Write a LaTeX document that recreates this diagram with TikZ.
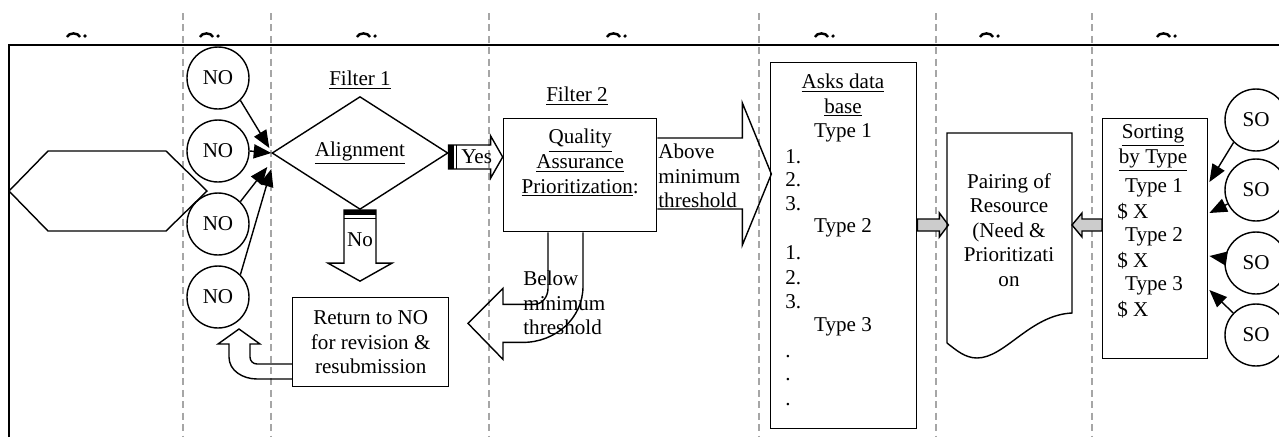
\documentclass[tikz,border=0pt]{standalone}
\usepackage{fontspec}
\setmainfont{Liberation Serif}
\usetikzlibrary{shapes.geometric,arrows.meta,positioning,calc}

\tikzset{
  lane/.style={black!35, dash pattern=on 4pt off 2.5pt, line width=0.8pt},
  box/.style={draw, line width=0.8pt, inner sep=0pt, anchor=north west},
  org/.style={draw, circle, line width=0.8pt, minimum size=1.24cm, inner sep=0pt},
  blk/.style={draw, line width=0.8pt, line join=miter},
  gblk/.style={blk, fill=gray!40},
  feed/.style={line width=0.8pt, -{Triangle[length=10pt,width=8pt]}},
  txt/.style={align=center, inner sep=0pt}
}

\begin{document}
\begin{tikzpicture}[x=0.02cm,y=-0.02cm,font=\fontsize{12}{14}\selectfont]
\useasboundingbox (0,0) rectangle (1279,437);
\clip (0,0) rectangle (1279,437);

% lanes and the cut-off lane titles
\foreach \x in {183,271,489,759,936,1092}
  \draw[lane] (\x,13) -- (\x,437);
\foreach \x in {67,200,357,607,815,980,1157}{
  \draw[line width=1.4pt] (\x,37) to[out=70,in=110] (\x+13,37);
  \fill (\x+18,36) circle (1pt);
}
\draw[line width=1.1pt] (9,437) -- (9,45) -- (1279,45);

% start
\draw[line width=0.8pt] (9,191) -- (48,151) -- (166,151) -- (207,191) -- (166,231) -- (48,231) -- cycle;

% NO's
\node[org] (no1) at (218,78) {NO};
\node[org] (no2) at (218,151) {NO};
\node[org] (no3) at (218,224) {NO};
\node[org] (no4) at (218,297) {NO};

% filter 1
\node (f1) at (360,80) {\underline{Filter 1}};
\node[draw, diamond, line width=0.8pt, minimum width=3.52cm, minimum height=1.96cm, inner sep=0pt] (dia) at (360,153) {\underline{Alignment}};
\draw[feed] (no1.south east) -- ($(dia.west)+(-2,-5)$);
\draw[feed] (no2.east) -- (dia.west);
\draw[feed] (no3.north east) -- ($(dia.west)+(-4,14)$);
\draw[feed] (no4.north east) -- ($(dia.west)+(0,16)$);

% yes
\draw[blk] ($(dia.east)+(0,-8)$) -- ++(42,0) -- ++(0,-9) -- ++(12,21) -- ++(-12,21) -- ++(0,-9) -- ++(-42,0) -- cycle;
\fill ($(dia.east)+(0,-8)$) rectangle ++(5,24);
\draw[line width=0.6pt] ($(dia.east)+(8,-8)$) -- ++(0,24);
\node at ($(dia.east)+(28,4)$) {Yes};

% no
\draw[blk] ($(dia.south)+(-16,0)$) -- ++(32,0) -- ++(0,53) -- ++(16,0) -- ++(-32,18) -- ++(-32,-18) -- ++(16,0) -- cycle;
\fill ($(dia.south)+(-16,0)$) rectangle ++(32,5);
\draw[line width=0.6pt] ($(dia.south)+(-16,8)$) -- ++(32,0);
\node at ($(dia.south)+(0,30)$) {No};

% return
\node[box, minimum width=3.12cm, minimum height=1.78cm, align=center] (ret) at (292,297) {Return to NO\\for revision \&\\resubmission};
\draw[blk] ($(ret.north west)+(0,67)$) -- ++(-35,0) to[out=180,in=-90] ++(-7,-7) -- ++(0,-13) -- ++(10,0) -- ++(-21,-15) -- ++(-21,15) -- ++(11,0) -- ++(0,13) to[out=-90,in=180] ++(28,22) -- ++(35,0);

% filter 2
\node (f2) at (577,96) {\underline{Filter 2}};
\node[box, minimum width=3.06cm, minimum height=2.26cm] (qa) at (503,118) {};
\node[txt] (qat) at ($(qa.north)+(0,45)$) {\underline{Quality}\\\underline{Assurance}\\\underline{Prioritization}:};

% above
\draw[blk] ($(qa.north east)+(0,20)$) -- ++(85,0) -- ++(0,-35) -- ++(29,71) -- ++(-29,71) -- ++(0,-36) -- ++(-85,0);
\node[anchor=west, align=left, inner sep=0pt] (abv) at (658,176) {Above\\minimum\\threshold};

% below
\draw[blk] ($(qa.south west)+(45,0)$) -- ++(0,56) to[out=-90,in=0] ++(-14,16) -- ++(-31,0) -- ++(0,-16) -- ++(-35,35) -- ++(35,36) -- ++(0,-17) -- ++(20,0) to[out=0,in=-90] ++(60,-56) -- ++(0,-54);
\node[anchor=west, align=left, inner sep=0pt] (blw) at (523,303) {Below\\minimum\\threshold};

% asks data base
\node[box, minimum width=2.92cm, minimum height=7.32cm] (ask) at (770,62) {};
\node[txt] (askh) at (843,108) {\underline{Asks data}\\\underline{base}\\Type 1};
\node (t2) at (843,228) {Type 2};
\node (t3) at (843,327) {Type 3};
\foreach \t/\y in {1./157, 2./180, 3./204, 1./253, 2./278, 3./302, ./357, ./380, ./405}
  \node[anchor=west, inner sep=0pt] at (785,\y) {\t};
\draw[gblk] ($(ask.north east)+(0,157)$) -- ++(22,0) -- ++(0,-6) -- ++(9,12) -- ++(-9,12) -- ++(0,-6) -- ++(-22,0) -- cycle;

% pairing
\draw[line width=0.8pt] (947,343) -- (947,133) -- (1072,133) -- (1072,313) .. controls (1030,315) and (1005,358) .. (977,358) .. controls (965,358) and (956,350) .. (947,343);
\node[txt] (pair) at (1009,230) {Pairing of\\Resource\\(Need \&\\Prioritizati\\on};

% sorting
\node[box, minimum width=2.1cm, minimum height=4.8cm] (sort) at (1102,118) {};
\node[txt] (sorth) at (1153,148) {\underline{Sorting}\\\underline{by Type}};
\foreach \y/\k in {188/1, 237/2, 286/3}{
  \node at (1154,\y) {Type \k};
  \node[anchor=west, inner sep=0pt] at (1117,\y+24) {\$ X};
}
\draw[gblk] ($(sort.north west)+(0,101)$) -- ++(-20,0) -- ++(0,-6) -- ++(-10,12) -- ++(10,12) -- ++(0,-6) -- ++(20,0) -- cycle;

% SO's
\node[org] (so1) at (1256,120) {SO};
\node[org] (so2) at (1256,190) {SO};
\node[org] (so3) at (1256,263) {SO};
\node[org] (so4) at (1256,335) {SO};
\draw[feed] (so1.south west) -- ($(sort.north east)+(1,64)$);
\draw[feed] (so2) -- ($(sort.north east)+(1,95)$);
\draw[feed] (so3) -- ($(sort.north east)+(1,138)$);
\draw[feed] (so4) -- ($(sort.north east)+(1,172)$);
\end{tikzpicture}
\end{document}
